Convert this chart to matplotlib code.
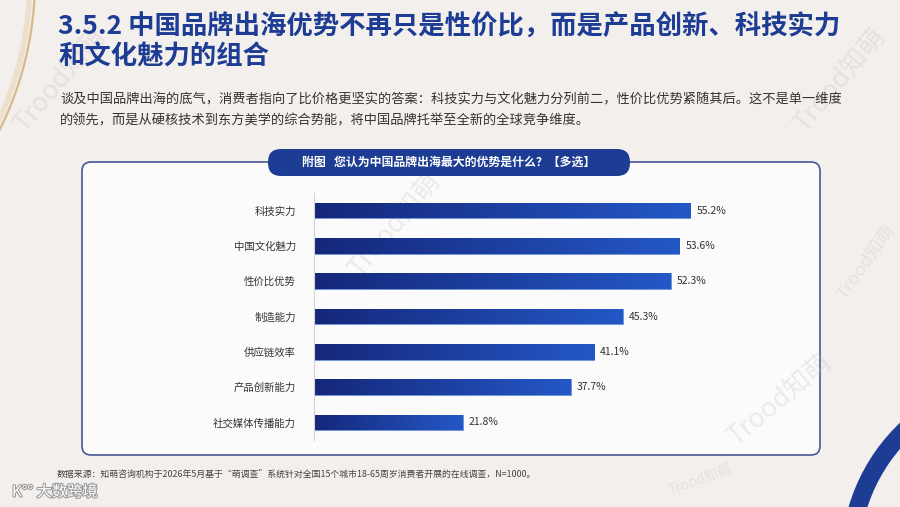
import matplotlib

matplotlib.use("Agg")

import numpy as np
import matplotlib.pyplot as plt
import matplotlib.patheffects as pe
from matplotlib.patches import FancyBboxPatch, Arc
from matplotlib.colors import LinearSegmentedColormap

plt.rcParams["font.family"] = ["Noto Sans CJK SC", "DejaVu Sans"]

# data
categories = ["科技实力", "中国文化魅力", "性价比优势", "制造能力", "供应链效率", "产品创新能力", "社交媒体传播能力"]
values = [55.2, 53.6, 52.3, 45.3, 41.1, 37.7, 21.8]

TITLE = "3.5.2 中国品牌出海优势不再只是性价比，而是产品创新、科技实力\n和文化魅力的组合"
SUB1 = "谈及中国品牌出海的底气，消费者指向了比价格更坚实的答案：科技实力与文化魅力分列前二，性价比优势紧随其后。这不是单一维度"
SUB2 = "的领先，而是从硬核技术到东方美学的综合势能，将中国品牌托举至全新的全球竞争维度。"
PILL = "附图   您认为中国品牌出海最大的优势是什么？【多选】"
SOURCE = "数据来源：知萌咨询机构于2026年5月基于“萌调查”系统针对全国15个城市18-65周岁消费者开展的在线调查，N=1000。"

BG = "#f3efed"
NAVY = "#1d3c94"
TEXT = "#333333"
W, H = 900, 507

fig = plt.figure(figsize=(W / 100, H / 100), dpi=100, facecolor=BG)

# background / decoration layer in pixel coords
bg = fig.add_axes([0, 0, 1, 1])
bg.set_xlim(0, W)
bg.set_ylim(H, 0)
bg.axis("off")

# gold arc top-left
bg.add_patch(Arc((-300, -20), 670, 670, theta1=-5, theta2=32, color="#d8b988", lw=1.6, zorder=1))
bg.add_patch(Arc((-300, -20), 660, 660, theta1=-5, theta2=32, color="#ece0cc", lw=4, zorder=0.9))
# navy crescent bottom-right
bg.add_patch(Arc((1030, 560), 360, 360, theta1=190, theta2=240, color=NAVY, lw=13, zorder=1))

# faint watermarks (over panel, under bars)
for (wx, wy, rot, fs) in [(395, 225, 50, 19), (60, 80, 50, 19), (840, 80, 50, 19),
                          (780, 400, 40, 19), (866, 262, 55, 13), (700, 480, 20, 10)]:
    bg.text(wx, wy, "Trood知萌", fontsize=fs, color="#c9c2bf", alpha=0.3, rotation=rot,
            ha="center", va="center", zorder=2.5)

# title and intro
bg.text(58, 42, TITLE, fontsize=19, fontweight="bold", color=NAVY, va="center",
        linespacing=1.12, zorder=3)
bg.text(60, 100, SUB1, fontsize=9.5, color=TEXT, va="center", zorder=3)
bg.text(60, 121, SUB2, fontsize=9.5, color=TEXT, va="center", zorder=3)

# chart panel
bg.add_patch(FancyBboxPatch((82, 162), 738, 293, boxstyle="round,pad=0,rounding_size=9",
                            fc="#fcfbfb", ec="#4a5694", lw=1.2, zorder=2))
bg.add_patch(FancyBboxPatch((268, 149), 362, 27, boxstyle="round,pad=0,rounding_size=13",
                            fc=NAVY, ec="none", zorder=3))
bg.text(449, 162.5, PILL, fontsize=8.6, fontweight="bold", color="white",
        ha="center", va="center", zorder=4)

# source + logo
bg.text(57, 475, SOURCE, fontsize=6.4, color="#444444", va="center", zorder=3)
bg.text(12, 492, "K°° 大数跨境", fontsize=11, color="white", va="center", zorder=3,
        path_effects=[pe.withStroke(linewidth=1.5, foreground="#9a9a9a")])

# bar chart
ax = fig.add_axes([314 / W, 67 / H, 409 / W, 247 / H])
ax.set_facecolor("none")
y = np.arange(len(categories))
bars = ax.barh(y, values, height=0.44, color=NAVY, edgecolor="#6e96e0", lw=0.6, zorder=2)
ax.set_xlim(0, 60)
ax.set_ylim(len(categories) - 0.5, -0.5)

cmap = LinearSegmentedColormap.from_list("bar", ["#15277a", "#2458c6"])
grad = np.linspace(0, 1, 256).reshape(1, -1)
for b in bars:
    x0, y0 = b.get_x(), b.get_y()
    im = ax.imshow(grad, cmap=cmap, aspect="auto", zorder=2.5,
                   extent=[x0, x0 + b.get_width(), y0 + b.get_height(), y0])
    im.set_clip_path(b)

for yi, v in zip(y, values):
    ax.text(v + 0.9, yi, f"{v:.1f}%", fontsize=7.5, color=TEXT, va="center", zorder=3)

ax.set_yticks(y)
ax.set_yticklabels(categories, fontsize=7.5, color=TEXT)
ax.tick_params(axis="y", length=0, pad=13)
ax.set_xticks([])
for s in ("top", "right", "bottom"):
    ax.spines[s].set_visible(False)
ax.spines["left"].set_color("#d4d4d4")
ax.spines["left"].set_linewidth(0.8)

fig.savefig("out.png", dpi=100, facecolor=BG)
